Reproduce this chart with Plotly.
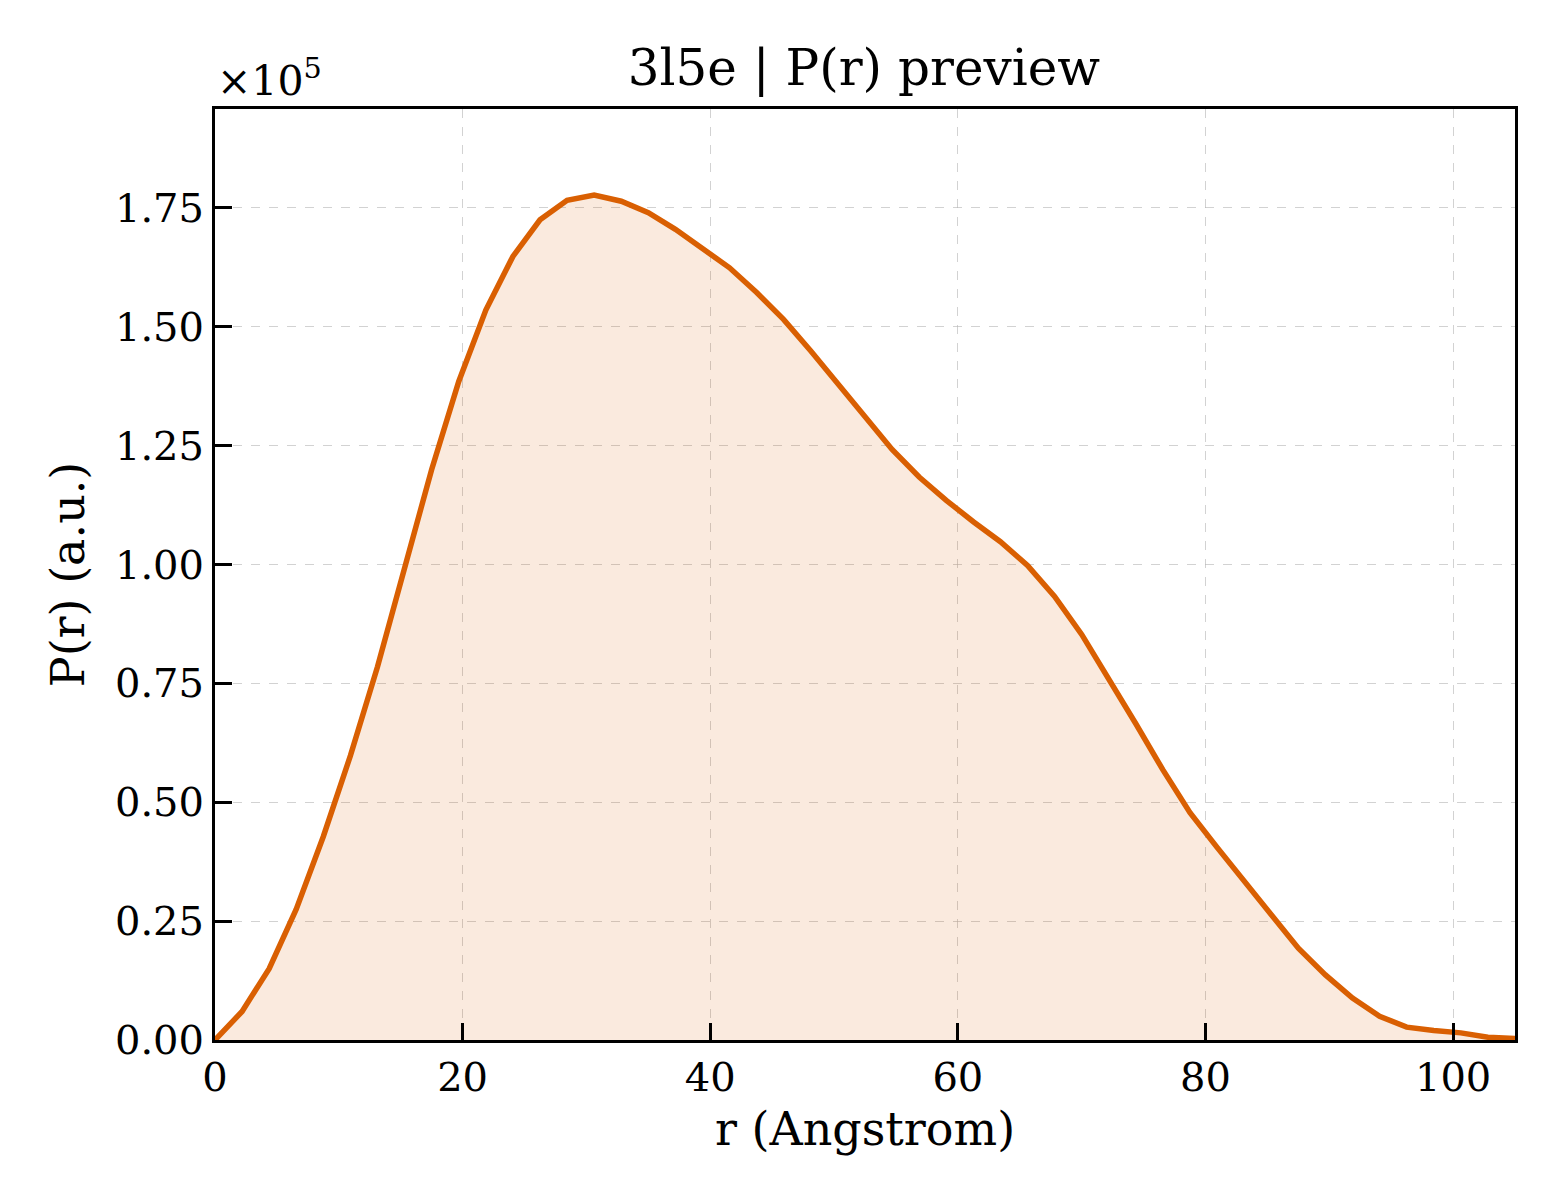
import plotly.graph_objects as go

# r values (Angstrom) and P(r) in units of 1e5
r_vals = [0.0, 2.1875, 4.375, 6.5625, 8.75, 10.9375, 13.125, 15.3125, 17.5, 19.6875,
          21.875, 24.0625, 26.25, 28.4375, 30.625, 32.8125, 35.0, 37.1875, 39.375, 41.5625,
          43.75, 45.9375, 48.125, 50.3125, 52.5, 54.6875, 56.875, 59.0625, 61.25, 63.4375,
          65.625, 67.8125, 70.0, 72.1875, 74.375, 76.5625, 78.75, 80.9375, 83.125, 85.3125,
          87.5, 89.6875, 91.875, 94.0625, 96.25, 98.4375, 100.625, 102.8125, 105.0]
pr_vals = [0.000, 0.060, 0.150, 0.275, 0.428, 0.598, 0.785, 0.995, 1.200, 1.385,
           1.535, 1.648, 1.725, 1.766, 1.777, 1.764, 1.740, 1.705, 1.666, 1.624,
           1.572, 1.515, 1.449, 1.379, 1.309, 1.242, 1.184, 1.135, 1.090, 1.048,
           0.998, 0.933, 0.853, 0.760, 0.665, 0.568, 0.478, 0.405, 0.333, 0.263,
           0.193, 0.137, 0.088, 0.050, 0.027, 0.020, 0.015, 0.006, 0.003]

x_ticks = [0, 20, 40, 60, 80, 100]
y_ticks = [0.0, 0.25, 0.5, 0.75, 1.0, 1.25, 1.5, 1.75]

FONT = "DejaVu Serif"

fig = go.Figure()
fig.add_trace(go.Scatter(
    x=r_vals, y=pr_vals, mode="lines",
    line=dict(color="#D95F02", width=5.5),
    fill="tozeroy", fillcolor="rgba(217,95,2,0.13)",
    showlegend=False,
))

axis_common = dict(
    showline=True, linecolor="black", linewidth=3, mirror=True,
    ticks="inside", ticklen=17, tickwidth=3, tickcolor="black",
    showgrid=True, gridcolor="rgba(180,180,180,0.6)", griddash="dash", gridwidth=1.3,
    zeroline=False,
    tickfont=dict(family=FONT, size=40, color="black"),
)

fig.update_xaxes(
    range=[0, 105], tickvals=x_ticks, ticktext=[str(v) for v in x_ticks],
    title=dict(text="r (Angstrom)", font=dict(family=FONT, size=46, color="black"), standoff=14),
    **axis_common,
)
fig.update_yaxes(
    range=[0, 1.958], tickvals=y_ticks, ticktext=[f"{v:.2f}" for v in y_ticks],
    title=dict(text="P(r) (a.u.)", font=dict(family=FONT, size=46, color="black"), standoff=16),
    **axis_common,
)

fig.update_layout(
    width=1552, height=1192,
    margin=dict(l=207, r=45, t=101, b=160),
    paper_bgcolor="white", plot_bgcolor="white",
    title=dict(text="3l5e | P(r) preview", x=0.5515, xanchor="center", y=0.9497, yanchor="middle",
               font=dict(family=FONT, size=50, color="black")),
    annotations=[dict(
        text="×10<sup>5</sup>", xref="paper", yref="paper", x=0.0, y=1.0,
        xanchor="left", yanchor="bottom", yshift=2, xshift=0, showarrow=False,
        font=dict(family=FONT, size=41, color="black"),
    )],
)

fig.write_html("out.html")
